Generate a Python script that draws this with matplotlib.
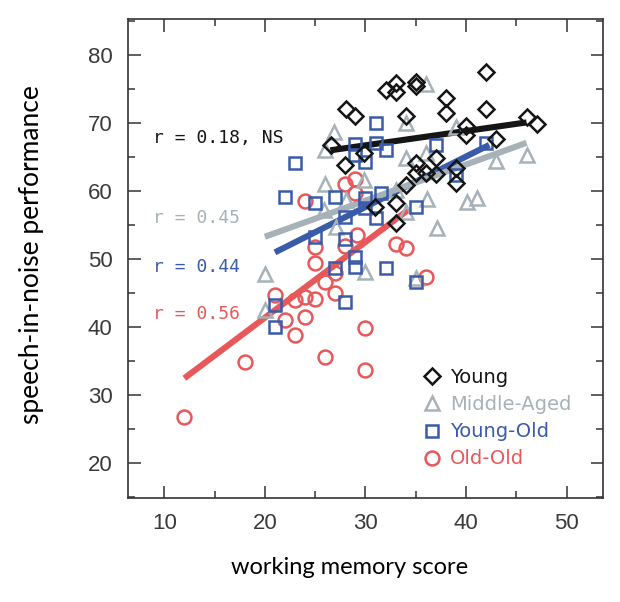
import matplotlib
matplotlib.use("Agg")
import matplotlib.pyplot as plt
from matplotlib.ticker import MultipleLocator

# ---------------- data ----------------
young_x = [26.6, 28.1, 29.0, 28.0, 29.9, 30.9, 32.0, 33.0, 33.0, 33.0, 33.0, 34.0, 34.0,
           35.0, 35.0, 35.0, 35.0, 36.0, 37.0, 37.0, 38.0, 38.0, 39.0, 39.0, 40.0, 40.0,
           42.0, 42.0, 43.0, 46.0, 47.0]
young_y = [66.8, 72.1, 71.0, 63.9, 65.6, 57.6, 74.8, 75.9, 74.6, 58.2, 55.3, 71.0, 60.9,
           76.0, 75.4, 64.1, 62.6, 62.6, 64.9, 62.5, 73.7, 71.5, 63.4, 61.2, 69.6, 68.2,
           77.5, 72.1, 67.6, 70.9, 69.9]

middle_x = [20.0, 20.0, 25.9, 26.0, 26.0, 26.9, 27.1, 28.1, 29.9, 30.0, 33.0, 34.0, 34.0,
            34.0, 35.0, 36.0, 36.0, 36.1, 37.1, 39.0, 40.1, 41.1, 43.0, 46.0]
middle_y = [47.8, 42.5, 57.2, 61.0, 66.0, 68.7, 54.8, 58.7, 61.6, 48.1, 60.2, 70.0, 64.9,
            57.0, 47.2, 75.8, 65.6, 58.8, 54.6, 69.4, 58.4, 59.0, 64.5, 65.3]

yold_x = [21.0, 21.0, 22.0, 23.0, 25.0, 25.0, 27.0, 27.0, 28.0, 28.0, 28.0, 29.0, 29.0,
          29.0, 29.0, 30.0, 30.0, 30.0, 31.0, 31.0, 31.0, 31.5, 32.0, 32.0, 35.0, 35.0,
          37.0, 39.0, 42.0]
yold_y = [43.2, 40.0, 59.1, 64.2, 58.2, 53.3, 59.2, 48.7, 56.2, 53.0, 43.7, 67.0, 65.3,
          50.3, 48.8, 64.3, 59.0, 57.5, 70.0, 67.1, 56.1, 59.8, 66.0, 48.7, 57.6, 46.7,
          66.8, 62.4, 67.1]

oold_x = [12.0, 18.0, 21.0, 22.0, 23.0, 24.0, 23.0, 24.0, 25.0, 26.0, 30.0, 30.0, 25.0,
          25.0, 26.0, 27.0, 27.0, 24.0, 28.0, 29.0, 29.0, 28.0, 33.0, 34.0, 36.0, 29.2]
oold_y = [26.8, 34.9, 44.7, 41.0, 38.8, 41.5, 44.0, 44.4, 44.2, 35.6, 39.9, 33.7, 49.4,
          51.8, 46.6, 45.1, 48.0, 58.5, 61.0, 61.8, 59.7, 52.0, 52.3, 51.6, 47.4, 53.6]

# regression line end points (x range, y values)
young_fit_x, young_fit_y = [26.5, 46.0], [66.0, 70.1]
middle_fit_x, middle_fit_y = [20.0, 46.0], [53.3, 67.1]
yold_fit_x, yold_fit_y = [21.0, 42.3], [51.0, 66.8]
oold_fit_x, oold_fit_y = [12.0, 34.2], [32.5, 57.2]

r_labels = ["r = 0.18, NS", "r = 0.45", "r = 0.44", "r = 0.56"]
legend_labels = ["Young", "Middle-Aged", "Young-Old", "Old-Old"]
x_ticks = [10, 20, 30, 40, 50]
y_ticks = [20, 30, 40, 50, 60, 70, 80]

# ---------------- style ----------------
c_black = "#151515"
c_gray = "#A7B2B8"
c_blue = "#3A5BA9"
c_red = "#E8585A"

fig = plt.figure(figsize=(6.2, 6.02), dpi=100)
ax = fig.add_axes([128 / 620, 1 - 498 / 602, (603 - 128) / 620, (498 - 19) / 602])

lw_fit = 4.4
ax.plot(oold_fit_x, oold_fit_y, color=c_red, lw=lw_fit, solid_capstyle="butt", zorder=2)
ax.plot(yold_fit_x, yold_fit_y, color=c_blue, lw=lw_fit, solid_capstyle="butt", zorder=2)
ax.plot(middle_fit_x, middle_fit_y, color=c_gray, lw=lw_fit, solid_capstyle="butt", zorder=2)
ax.plot(young_fit_x, young_fit_y, color=c_black, lw=lw_fit, solid_capstyle="butt", zorder=2)

mew = 1.8
h_red, = ax.plot(oold_x, oold_y, ls="none", marker="o", ms=10, mfc="none", mec=c_red, mew=mew, zorder=3)
h_blue, = ax.plot(yold_x, yold_y, ls="none", marker="s", ms=8.5, mfc="none", mec=c_blue, mew=mew, zorder=4)
h_gray, = ax.plot(middle_x, middle_y, ls="none", marker="^", ms=9.5, mfc="none", mec=c_gray, mew=mew, zorder=3)
h_black, = ax.plot(young_x, young_y, ls="none", marker="D", ms=8, mfc="none", mec=c_black, mew=mew, zorder=5)

ax.set_xlim(6.4, 53.6)
ax.set_ylim(14.9, 85.3)
ax.set_xticks(x_ticks)
ax.set_yticks(y_ticks)
ax.xaxis.set_minor_locator(MultipleLocator(5))
ax.yaxis.set_minor_locator(MultipleLocator(5))
ax.tick_params(which="both", direction="in", top=True, right=True, color="#333333", width=1.1)
ax.tick_params(which="major", length=9, pad=11, labelsize=16, labelcolor="#3a3a3a")
ax.tick_params(which="minor", length=5)
for lab in ax.get_xticklabels() + ax.get_yticklabels():
    lab.set_family(["Liberation Sans Narrow", "Liberation Sans", "DejaVu Sans"])
for s in ax.spines.values():
    s.set_color("#333333")
    s.set_linewidth(1.2)

# r annotations
txt_kw = dict(fontsize=13, family="DejaVu Sans Mono", ha="left", va="center")
ax.text(8.9, 67.8, r_labels[0], color=c_black, **txt_kw)
ax.text(8.9, 56.0, r_labels[1], color=c_gray, **txt_kw)
ax.text(8.9, 48.8, r_labels[2], color=c_blue, **txt_kw)
ax.text(8.9, 41.9, r_labels[3], color=c_red, **txt_kw)

leg = ax.legend([h_black, h_gray, h_blue, h_red], legend_labels, loc="upper left",
                bbox_to_anchor=((422 - 128) / 475, (498 - 368) / 479), frameon=False,
                fontsize=14, handlelength=1.0, handletextpad=0.45, labelspacing=0.42,
                borderaxespad=0, borderpad=0)
for t, c in zip(leg.get_texts(), [c_black, c_gray, c_blue, c_red]):
    t.set_color(c)

fig.text(350 / 620, 1 - 568 / 602, "working memory score", ha="center", va="center",
         fontsize=17, family="Lato")
fig.text(32 / 620, 1 - 255 / 602, "speech-in-noise performance", ha="center", va="center",
         rotation=90, fontsize=19, family="Lato")

fig.savefig("out.png", dpi=100)
